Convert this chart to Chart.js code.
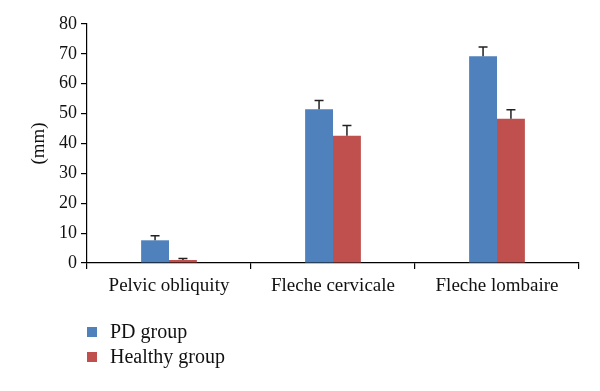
<!DOCTYPE html>
<html>
<head>
<meta charset="utf-8">
<script src="https://cdn.jsdelivr.net/npm/chart.js@4/dist/chart.umd.min.js"></script>
<style>
  html, body { margin: 0; padding: 0; background: #fff; }
  #wrap { position: relative; width: 600px; height: 391px; }
  #legend { position: absolute; left: 87px; top: 319px; font-family: "Liberation Serif", "DejaVu Serif", serif; font-size: 20px; color: #111; }
  #legend div { display: flex; align-items: center; height: 25px; }
  #legend span.box { display: inline-block; width: 10px; height: 10px; margin-right: 13px; }
</style>
</head>
<body>
<div id="wrap">
  <canvas id="chart" width="600" height="391"></canvas>
  <div id="legend"></div>
</div>
<script>
const categories = ['Pelvic obliquity', 'Fleche cervicale', 'Fleche lombaire'];
const pdValues = [7.6, 51.5, 69.2];
const pdErrors = [1.5, 2.9, 3.1];
const healthyValues = [1.0, 42.6, 48.3];
const healthyErrors = [0.5, 3.4, 3.0];
const yTicks = [0, 10, 20, 30, 40, 50, 60, 70, 80];

const font = "'Liberation Serif', 'DejaVu Serif', serif";

// draws the upper error bar with a cap on each bar
const errorBars = {
    id: 'errorBars',
    afterDatasetsDraw(chart) {
        const ctx = chart.ctx;
        const yScale = chart.scales.y;
        ctx.save();
        ctx.strokeStyle = '#222';
        ctx.lineWidth = 1.5;
        chart.data.datasets.forEach((ds, i) => {
            const meta = chart.getDatasetMeta(i);
            meta.data.forEach((bar, j) => {
                const top = yScale.getPixelForValue(ds.data[j] + ds.errors[j]);
                ctx.beginPath();
                ctx.moveTo(bar.x, bar.y);
                ctx.lineTo(bar.x, top);
                ctx.moveTo(bar.x - 4.5, top);
                ctx.lineTo(bar.x + 4.5, top);
                ctx.stroke();
            });
        });
        ctx.restore();
    }
};

const chart = new Chart(document.getElementById('chart').getContext('2d'), {
    type: 'bar',
    data: {
        labels: categories,
        datasets: [
            { label: 'PD group', data: pdValues, errors: pdErrors, backgroundColor: '#4F81BD' },
            { label: 'Healthy group', data: healthyValues, errors: healthyErrors, backgroundColor: '#C0504D' }
        ]
    },
    options: {
        responsive: false,
        animation: false,
        layout: { padding: { left: 10, right: 21, top: 24, bottom: 88 } },
        categoryPercentage: 0.34,
        barPercentage: 1.0,
        plugins: {
            legend: { display: false },
            tooltip: { enabled: false }
        },
        scales: {
            x: {
                grid: { display: true, drawOnChartArea: false, offset: true, color: '#000', tickLength: 6, lineWidth: 1.2 },
                border: { color: '#000', width: 1.2 },
                ticks: { color: '#111', font: { family: font, size: 19 }, padding: 6 },
                afterFit(scale) { scale.height = 40; }
            },
            y: {
                min: 0,
                max: 80,
                afterBuildTicks(scale) { scale.ticks = yTicks.map(v => ({ value: v })); },
                grid: { display: true, drawOnChartArea: false, color: '#000', tickLength: 6, lineWidth: 1.2 },
                border: { color: '#000', width: 1.2 },
                ticks: { color: '#111', font: { family: font, size: 18 }, padding: 4 },
                title: { display: true, text: '(mm)', color: '#111', font: { family: font, size: 19 }, padding: { top: 18, bottom: 0 } },
                afterFit(scale) { scale.width = 77; }
            }
        }
    },
    plugins: [errorBars]
});

// html legend stacked vertically under the axis
const legend = document.getElementById('legend');
chart.data.datasets.forEach(ds => {
    const row = document.createElement('div');
    row.innerHTML = '<span class="box" style="background:' + ds.backgroundColor + '"></span>' + ds.label;
    legend.appendChild(row);
});
</script>
</body>
</html>
